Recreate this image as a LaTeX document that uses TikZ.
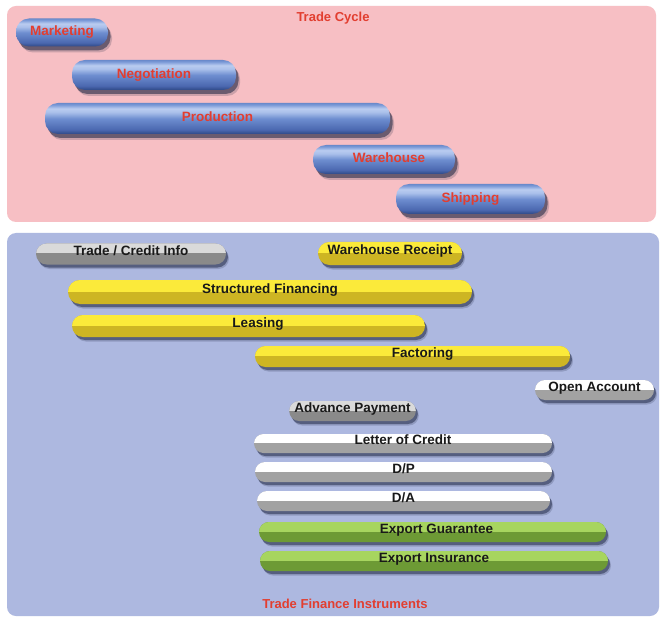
\documentclass[tikz,border=0pt]{standalone}
\usepackage{fontspec}
\setmainfont{Liberation Sans}
\usetikzlibrary{shapes.misc,shadows}
\definecolor{pinkbg}{HTML}{F7BFC4}
\definecolor{bluebg}{HTML}{ADB8E0}
\definecolor{redtxt}{HTML}{E23E30}
\definecolor{bA}{HTML}{2E4886}
\definecolor{bB}{HTML}{4B68B0}
\definecolor{bC}{HTML}{6E8ED0}
\definecolor{bD}{HTML}{A9BFEA}
\definecolor{bE}{HTML}{BACCF0}
\definecolor{bF}{HTML}{7C9BD8}
\definecolor{bG}{HTML}{6A8ACB}
\definecolor{ylwT}{HTML}{FBEA3A}
\definecolor{ylwB}{HTML}{CDB523}
\definecolor{gryT}{HTML}{DADADA}
\definecolor{gryB}{HTML}{8A8A8A}
\definecolor{whtT}{HTML}{FFFFFF}
\definecolor{whtB}{HTML}{A2A2A2}
\definecolor{grnT}{HTML}{A7D55F}
\definecolor{grnB}{HTML}{6D9A35}
\definecolor{shdw}{HTML}{1C2440}
\pgfdeclareverticalshading{bluebar}{100bp}{color(0bp)=(bA); color(25bp)=(bA); color(32bp)=(bB); color(50bp)=(bC); color(60bp)=(bD); color(66bp)=(bE); color(72bp)=(bF); color(75bp)=(bG); color(100bp)=(bG)}
\tikzset{
  lbl/.style={font=\bfseries\fontsize{13.5}{14}\selectfont},
  ttl/.style={font=\bfseries\fontsize{13}{14}\selectfont, text=redtxt, inner sep=0pt},
  cyc/.style={lbl, rectangle, rounded corners=13pt, inner sep=0pt, shading=bluebar,
    text=redtxt, text height=10pt, text depth=3.5pt,
    drop shadow={shadow xshift=4pt, shadow yshift=-6pt, opacity=0.2, fill=shdw},
    drop shadow={shadow xshift=2.5pt, shadow yshift=-4pt, opacity=0.55, fill=shdw}},
  ins/.style n args={2}{lbl, rounded rectangle, inner sep=0pt, fill=#2,
    path picture={\fill[#1] ([yshift=0.5pt]path picture bounding box.west) rectangle (path picture bounding box.north east);},
    text=black!90, text height=10pt, text depth=7.5pt,
    drop shadow={shadow xshift=3pt, shadow yshift=-4.5pt, opacity=0.2, fill=shdw},
    drop shadow={shadow xshift=2pt, shadow yshift=-3pt, opacity=0.5, fill=shdw}},
  yel/.style={ins={ylwT}{ylwB}},
  gry/.style={ins={gryT}{gryB}},
  wht/.style={ins={whtT}{whtB}},
  grn/.style={ins={grnT}{grnB}},
  panel/.style={rounded corners=9pt},
}
\begin{document}
\begin{tikzpicture}[x=1pt,y=-1pt]
\useasboundingbox[fill=white] (0,0) rectangle (660,617);
% panels
\fill[panel, pinkbg] (7,6) rectangle (656,222);
\fill[panel, bluebg] (7,233) rectangle (659,616);
% titles
\node[ttl] (tc) at (333,18) {Trade Cycle};
\node[ttl] (tfi) at (345,604) {Trade Finance Instruments};
% trade cycle bars
\node[cyc, minimum width=92pt, minimum height=28pt] (mkt) at (62,32.5) {Marketing};
\node[cyc, minimum width=164pt, minimum height=30pt] (neg) at (154,75) {Negotiation};
\node[cyc, minimum width=345pt, minimum height=31pt] (prd) at (217.5,118.5) {Production};
\node[cyc, minimum width=142pt, minimum height=29pt] (whs) at (384,159.5) {\hspace*{10pt}Warehouse};
\node[cyc, minimum width=149pt, minimum height=30pt] (shp) at (470.5,199) {Shipping};
% instruments
\node[gry, minimum width=190pt, minimum height=21pt] (tci) at (131,254) {Trade / Credit Info};
\node[yel, minimum width=144pt, minimum height=23pt] (wr) at (390,253.5) {Warehouse Receipt};
\node[yel, minimum width=404pt, minimum height=24pt] (sf) at (270,292) {Structured Financing};
\node[yel, minimum width=353pt, minimum height=22pt] (lea) at (248.5,326) {\hspace*{19pt}Leasing};
\node[yel, minimum width=315pt, minimum height=21pt] (fac) at (412.5,356.5) {\hspace*{20pt}Factoring};
\node[wht, minimum width=119pt, minimum height=20pt] (oa) at (594.5,390) {Open Account};
\node[gry, minimum width=119pt, minimum height=20pt] (ap) at (352.5,411) {Advance Payment};
\node[wht, minimum width=298pt, minimum height=19pt] (lc) at (403,443.5) {Letter of Credit};
\node[wht, minimum width=297pt, minimum height=20pt] (dp) at (403.5,472) {D/P};
\node[wht, minimum width=293pt, minimum height=20pt] (da) at (403.5,501) {D/A};
\node[grn, minimum width=347pt, minimum height=20pt] (eg) at (432.5,532) {\hspace*{8pt}Export Guarantee};
\node[grn, minimum width=348pt, minimum height=20pt] (ei) at (434,561) {Export Insurance};
\end{tikzpicture}
\end{document}
